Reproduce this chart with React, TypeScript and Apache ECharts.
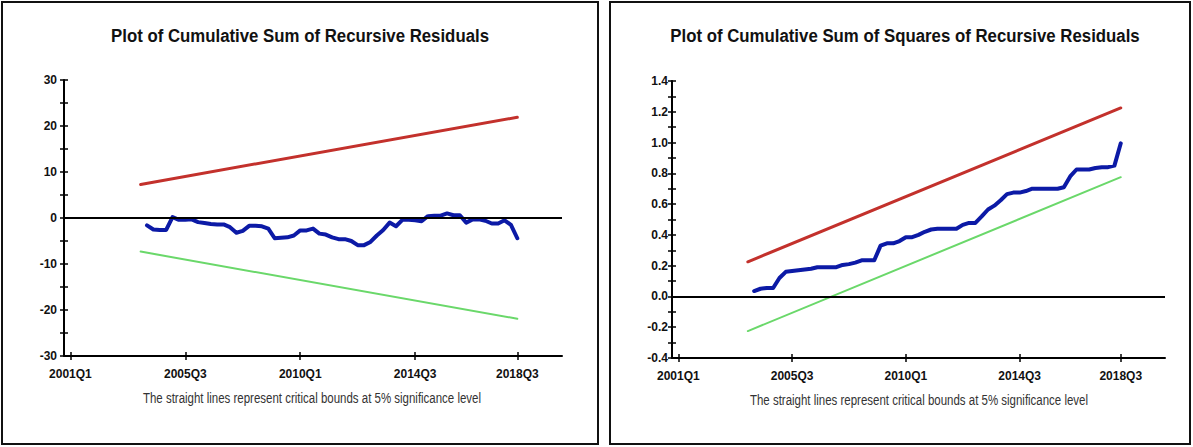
import React, { useEffect, useRef } from "react";
import * as echarts from "echarts";

// ---------- data ----------
const leftTitle = "Plot of Cumulative Sum of Recursive Residuals";
const rightTitle = "Plot of Cumulative Sum of Squares of Recursive Residuals";
const footNote = "The straight lines represent critical bounds at 5% significance level";

const xTickLabels = ["2001Q1", "2005Q3", "2010Q1", "2014Q3", "2018Q3"];
const axisStart = "2000Q4";
const axisEnd = "2020Q4";
const boundsStart = "2003Q4";
const seriesStart = "2004Q1";
const seriesEnd = "2018Q3";

// CUSUM of recursive residuals, 2004Q1 .. 2018Q3
const cusum = [
  -1.6, -2.5, -2.6, -2.6, 0.2, -0.4, -0.4, -0.3, -0.9, -1.1,
  -1.3, -1.4, -1.4, -2.0, -3.2, -2.8, -1.7, -1.7, -1.8, -2.3,
  -4.4, -4.3, -4.2, -3.8, -2.7, -2.7, -2.3, -3.4, -3.6, -4.2,
  -4.6, -4.6, -5.0, -5.9, -5.9, -5.2, -3.8, -2.6, -1.0, -1.8,
  -0.4, -0.4, -0.5, -0.7, 0.4, 0.5, 0.5, 1.0, 0.6, 0.6,
  -1.0, -0.3, -0.3, -0.6, -1.2, -1.2, -0.5, -1.5, -4.4,
];
const cusumUpper = [7.3, 21.9]; // at boundsStart, seriesEnd
const cusumLower = [-7.3, -21.9];

// CUSUM of squares, 2004Q1 .. 2018Q3
const cusumSq = [
  0.035, 0.05, 0.055, 0.055, 0.12, 0.16, 0.165, 0.17, 0.175, 0.18,
  0.19, 0.19, 0.19, 0.19, 0.205, 0.21, 0.22, 0.235, 0.235, 0.235,
  0.33, 0.345, 0.345, 0.36, 0.385, 0.385, 0.4, 0.42, 0.435, 0.44,
  0.44, 0.44, 0.44, 0.465, 0.478, 0.478, 0.52, 0.565, 0.59, 0.625,
  0.665, 0.675, 0.675, 0.685, 0.7, 0.7, 0.7, 0.7, 0.7, 0.71,
  0.78, 0.825, 0.825, 0.825, 0.835, 0.84, 0.84, 0.85, 0.995,
];
const cusumSqUpper = [0.225, 1.225];
const cusumSqLower = [-0.225, 0.775];

// ---------- helpers ----------
const qIndex = (q: string) => (parseInt(q.slice(0, 4), 10) - 2001) * 4 + (parseInt(q.slice(5), 10) - 1);
const tickValues = xTickLabels.map(qIndex);
const labelFor = (v: number) => {
  const i = tickValues.indexOf(Math.round(v));
  return i >= 0 ? xTickLabels[i] : "";
};
const seriesPairs = (vals: number[]) => vals.map((v, k) => [qIndex(seriesStart) + k, v]);
const boundPairs = (vals: number[]) => [
  [qIndex(boundsStart), vals[0]],
  [qIndex(seriesEnd), vals[1]],
];

const FONT = "'Liberation Sans', Arial, sans-serif";

const RED = "#c3312c";
const GREEN = "#6ad86a";
const BLUE = "#0c1aa6";

function xAxes(grid: number) {
  const base = {
    type: "value",
    gridIndex: grid,
    min: qIndex(axisStart),
    max: qIndex(axisEnd) - 2,
    position: "bottom",
    splitLine: { show: false },
  };
  return [
    {
      ...base,
      axisLine: { show: true, onZero: false, lineStyle: { color: "#000", width: 2 } },
      axisTick: { show: true, inside: false, length: 4, customValues: tickValues, lineStyle: { color: "#000", width: 1.5 } },
      axisLabel: {
        show: true,
        customValues: tickValues,
        formatter: (v: number) => labelFor(v),
        margin: 12,
        color: "#111",
        fontWeight: "bold",
        fontSize: 12,
        fontFamily: FONT,
      },
    },
    {
      ...base,
      axisLine: { show: false, onZero: false },
      axisTick: { show: true, inside: true, length: 4, customValues: tickValues, lineStyle: { color: "#000", width: 1.5 } },
      axisLabel: { show: false },
    },
  ];
}

function yAxes(grid: number, min: number, max: number, interval: number, decimals: number, margin: number) {
  const base = {
    type: "value",
    gridIndex: grid,
    min,
    max,
    interval,
    position: "left",
    splitLine: { show: false },
  };
  return [
    {
      ...base,
      axisLine: { show: true, onZero: false, lineStyle: { color: "#000", width: 2 } },
      axisTick: { show: true, inside: false, length: 4, lineStyle: { color: "#000", width: 1.5 } },
      minorTick: { show: true, splitNumber: 2, length: 4, lineStyle: { color: "#000", width: 1.5 } },
      axisLabel: {
        show: true,
        margin,
        color: "#111",
        fontWeight: "bold",
        fontSize: 12,
        fontFamily: FONT,
        formatter: (v: number) => v.toFixed(decimals),
      },
    },
    {
      ...base,
      axisLine: { show: false, onZero: false },
      axisTick: { show: true, inside: true, length: 4, lineStyle: { color: "#000", width: 1.5 } },
      minorTick: { show: true, splitNumber: 2, length: 4, lineStyle: { color: "#000", width: 1.5 } },
      axisLabel: { show: false },
    },
  ];
}

const zeroMark = {
  silent: true,
  symbol: "none",
  label: { show: false },
  lineStyle: { color: "#000", width: 2, type: "solid" },
  data: [{ yAxis: 0 }],
};

function lineSeries(xi: number, yi: number, data: number[][], color: string, width: number, withZero = false) {
  const s: any = {
    type: "line",
    xAxisIndex: xi,
    yAxisIndex: yi,
    data,
    symbol: "none",
    lineStyle: { color, width, join: "round", cap: "round" },
    itemStyle: { color },
    z: 3,
  };
  if (withZero) s.markLine = zeroMark;
  return s;
}

function footText(x: number, y: number) {
  return {
    type: "text",
    x,
    y,
    scaleX: 0.82,
    style: { text: footNote, textAlign: "center", textVerticalAlign: "middle", font: `14px ${FONT}`, fill: "#333" },
  };
}

function titleText(x: number, text: string) {
  return {
    type: "text",
    x,
    y: 36,
    scaleY: 1.05,
    style: { text, textAlign: "center", textVerticalAlign: "middle", font: `bold 16.8px ${FONT}`, fill: "#111" },
  };
}

export default function App() {
  const ref = useRef<HTMLDivElement>(null);
  useEffect(() => {
    if (!ref.current) return;
    const chart = echarts.init(ref.current, undefined, { renderer: "svg" });
    const option: any = {
      animation: false,
      backgroundColor: "#fff",
      grid: [
        { left: 64, top: 80, width: 498, height: 276 },
        { left: 672, top: 81, width: 493, height: 277 },
      ],
      xAxis: [...xAxes(0), ...xAxes(1)],
      yAxis: [...yAxes(0, -30, 30, 10, 0, 7), ...yAxes(1, -0.4, 1.4, 0.2, 1, 4)],
      series: [
        lineSeries(0, 0, boundPairs(cusumUpper), RED, 3),
        lineSeries(0, 0, boundPairs(cusumLower), GREEN, 2),
        lineSeries(0, 0, seriesPairs(cusum), BLUE, 4, true),
        lineSeries(2, 2, boundPairs(cusumSqUpper), RED, 3),
        lineSeries(2, 2, boundPairs(cusumSqLower), GREEN, 2),
        lineSeries(2, 2, seriesPairs(cusumSq), BLUE, 4, true),
      ],
      graphic: [
        { type: "rect", shape: { x: 2, y: 2, width: 596, height: 442 }, style: { fill: "none", stroke: "#111", lineWidth: 2 }, z: 10 },
        { type: "rect", shape: { x: 610, y: 2, width: 580, height: 442 }, style: { fill: "none", stroke: "#111", lineWidth: 2 }, z: 10 },
        titleText(300, leftTitle),
        titleText(905, rightTitle),
        footText(312, 398),
        footText(919, 400),
      ],
    };
    chart.setOption(option);
    return () => chart.dispose();
  }, []);
  return <div ref={ref} style={{ position: "absolute", left: 0, top: 0, width: 1193, height: 447 }} />;
}
